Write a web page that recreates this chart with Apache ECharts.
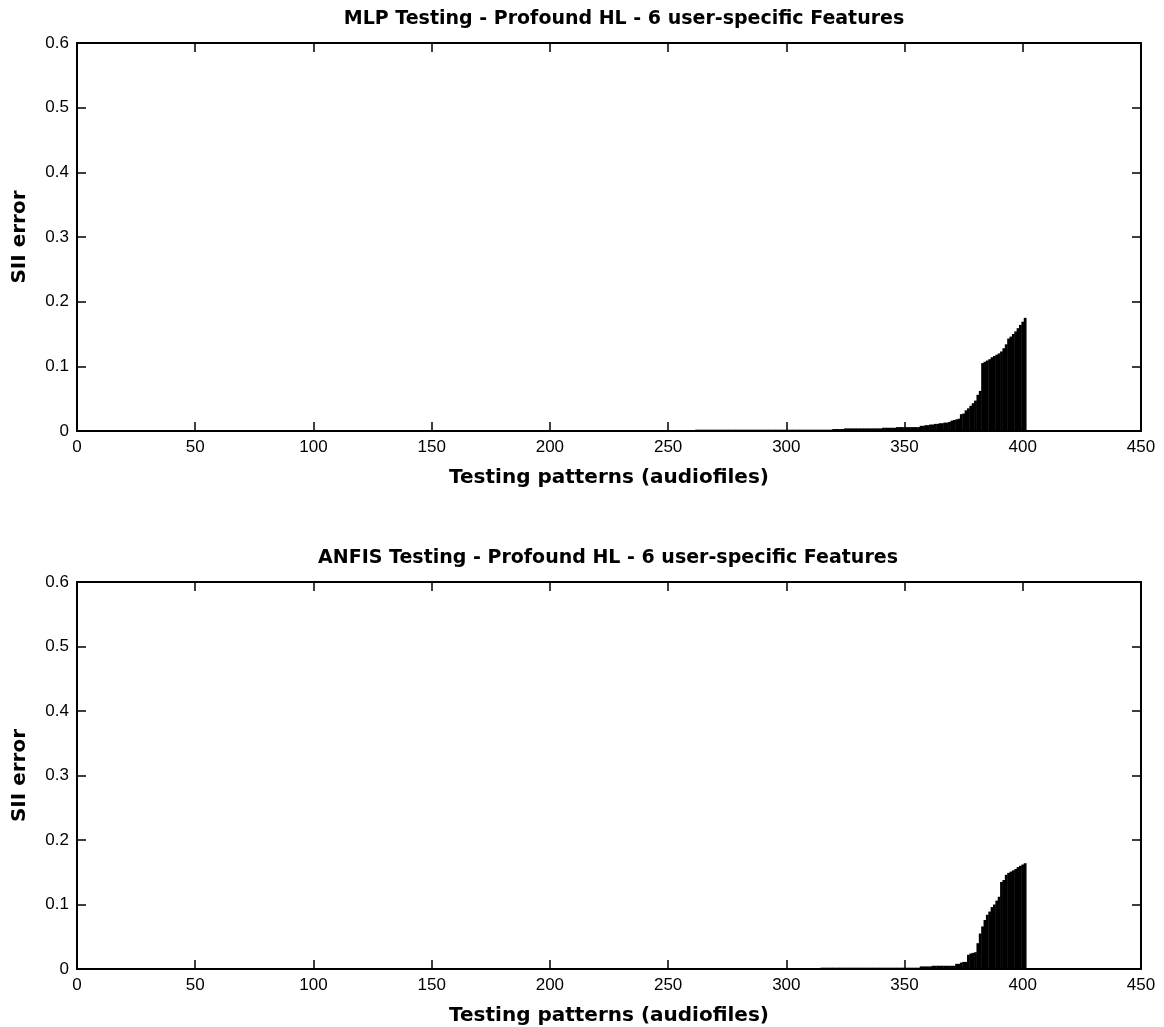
<!DOCTYPE html>
<html><head><meta charset="utf-8">
<script src="https://cdn.jsdelivr.net/npm/echarts@6/dist/echarts.min.js"></script>
<style>html,body{margin:0;padding:0;background:#fff}#c{width:1164px;height:1027px}</style>
</head><body><div id="c"></div>
<script>
const titles = ["MLP Testing - Profound HL - 6 user-specific Features", "ANFIS Testing - Profound HL - 6 user-specific Features"];
const xName = "Testing patterns (audiofiles)";
const yName = "SII error";
const yTickLabels = ["0", "0.1", "0.2", "0.3", "0.4", "0.5", "0.6"];

// MLP: sorted SII errors, first listed pattern index = mlpStart (earlier patterns are 0)
const mlpStart = 262;
const mlpErrors = [
  0.002,0.002,0.002,0.002,0.002,0.002,0.002,0.002,0.002,0.002,
  0.002,0.002,0.002,0.002,0.002,0.002,0.002,0.002,0.002,0.002,
  0.002,0.002,0.002,0.002,0.002,0.002,0.002,0.002,0.002,0.002,
  0.002,0.002,0.002,0.002,0.002,0.002,0.002,0.002,0.002,0.002,
  0.002,0.002,0.002,0.002,0.002,0.002,0.002,0.002,0.002,0.002,
  0.002,0.002,0.002,0.002,0.002,0.002,0.002,0.002,
  0.003,0.003,0.003,0.003,0.003,
  0.004,0.004,0.004,0.004,0.004,0.004,0.004,0.004,0.004,0.004,0.004,0.004,0.004,0.004,0.004,0.004,
  0.005,0.005,0.005,0.005,0.005,0.005,
  0.006,0.006,0.006,0.006,0.006,0.006,0.006,0.006,0.006,0.006,
  0.008,0.008,0.009,0.009,0.010,0.010,0.011,0.011,
  0.012,0.012,0.013,0.013,0.014,
  0.016,0.017,0.018,0.019,
  0.026,0.027,
  0.032,0.035,0.039,
  0.043,0.047,
  0.056,0.062,
  0.105,
  0.107,0.109,0.111,
  0.114,0.116,0.118,0.120,0.123,
  0.128,0.134,
  0.143,0.146,0.150,0.154,
  0.159,0.164,0.169,0.175
];

// ANFIS: sorted SII errors, first listed pattern index = anfisStart
const anfisStart = 315;
const anfisErrors = [
  0.002,0.002,0.002,0.002,0.002,0.002,0.002,0.002,0.002,0.002,
  0.002,0.002,0.002,0.002,0.002,0.002,0.002,0.002,0.002,0.002,
  0.002,0.002,0.002,0.002,0.002,0.002,0.002,0.002,0.002,0.002,
  0.002,0.002,0.002,0.002,0.002,0.002,0.002,0.002,0.002,0.002,
  0.002,0.002,
  0.004,0.004,0.004,0.004,0.004,
  0.005,0.005,0.005,0.005,0.005,0.005,0.005,0.005,0.005,0.005,
  0.008,0.008,0.010,0.011,0.011,
  0.022,0.024,0.025,0.026,
  0.040,0.055,0.066,0.076,0.084,0.089,0.096,0.100,0.106,0.112,
  0.135,0.138,0.146,0.149,0.151,0.153,0.155,0.158,0.160,0.162,0.164
];

const TICKFONT = "'Liberation Sans', Arial, sans-serif";
const BOLDFONT = "'DejaVu Sans', 'Liberation Sans', sans-serif";
const black = '#000';

function xAxisDef(gridIndex, top) {
  return {
    type: 'value', gridIndex, min: 0, max: 450, interval: 50,
    position: top ? 'top' : 'bottom',
    axisLine: { show: true, onZero: false, lineStyle: { color: black, width: 2 } },
    axisTick: { show: true, inside: true, length: 9, lineStyle: { color: black, width: 1.5 } },
    splitLine: { show: false },
    axisLabel: { show: !top, color: black, fontSize: 17, fontFamily: TICKFONT, margin: 8 },
    name: top ? '' : xName, nameLocation: 'middle', nameGap: 37,
    nameTextStyle: { color: black, fontSize: 20, fontWeight: 'bold', fontFamily: BOLDFONT }
  };
}
function yAxisDef(gridIndex, right) {
  return {
    type: 'value', gridIndex, min: 0, max: 0.6, interval: 0.1,
    position: right ? 'right' : 'left',
    axisLine: { show: true, onZero: false, lineStyle: { color: black, width: 2 } },
    axisTick: { show: true, inside: true, length: 9, lineStyle: { color: black, width: 1.5 } },
    splitLine: { show: false },
    axisLabel: { show: !right, color: black, fontSize: 17, fontFamily: TICKFONT, margin: 8,
      formatter: (v) => yTickLabels[Math.round(v * 10)] },
    name: right ? '' : yName, nameLocation: 'middle', nameGap: 47,
    nameTextStyle: { color: black, fontSize: 20, fontWeight: 'bold', fontFamily: BOLDFONT }
  };
}

const chart = echarts.init(document.getElementById('c'), null, { renderer: 'canvas' });
chart.setOption({
  animation: false,
  backgroundColor: '#fff',
  title: [
    { text: titles[0], left: 624, top: 10, textAlign: 'center', padding: 0,
      textStyle: { color: black, fontSize: 19, fontWeight: 'bold', fontFamily: BOLDFONT } },
    { text: titles[1], left: 608, top: 549, textAlign: 'center', padding: 0,
      textStyle: { color: black, fontSize: 19, fontWeight: 'bold', fontFamily: BOLDFONT } }
  ],
  grid: [
    { left: 77, top: 43, width: 1064, height: 388 },
    { left: 77, top: 582, width: 1064, height: 387 }
  ],
  xAxis: [xAxisDef(0, false), xAxisDef(0, true), xAxisDef(1, false), xAxisDef(1, true)],
  yAxis: [yAxisDef(0, false), yAxisDef(0, true), yAxisDef(1, false), yAxisDef(1, true)],
  series: [
    { type: 'bar', xAxisIndex: 0, yAxisIndex: 0, barWidth: 2.8,
      itemStyle: { color: black },
      data: mlpErrors.map((v, i) => [mlpStart + i, v]) },
    { type: 'bar', xAxisIndex: 2, yAxisIndex: 2, barWidth: 2.8,
      itemStyle: { color: black },
      data: anfisErrors.map((v, i) => [anfisStart + i, v]) }
  ]
});
</script></body></html>
